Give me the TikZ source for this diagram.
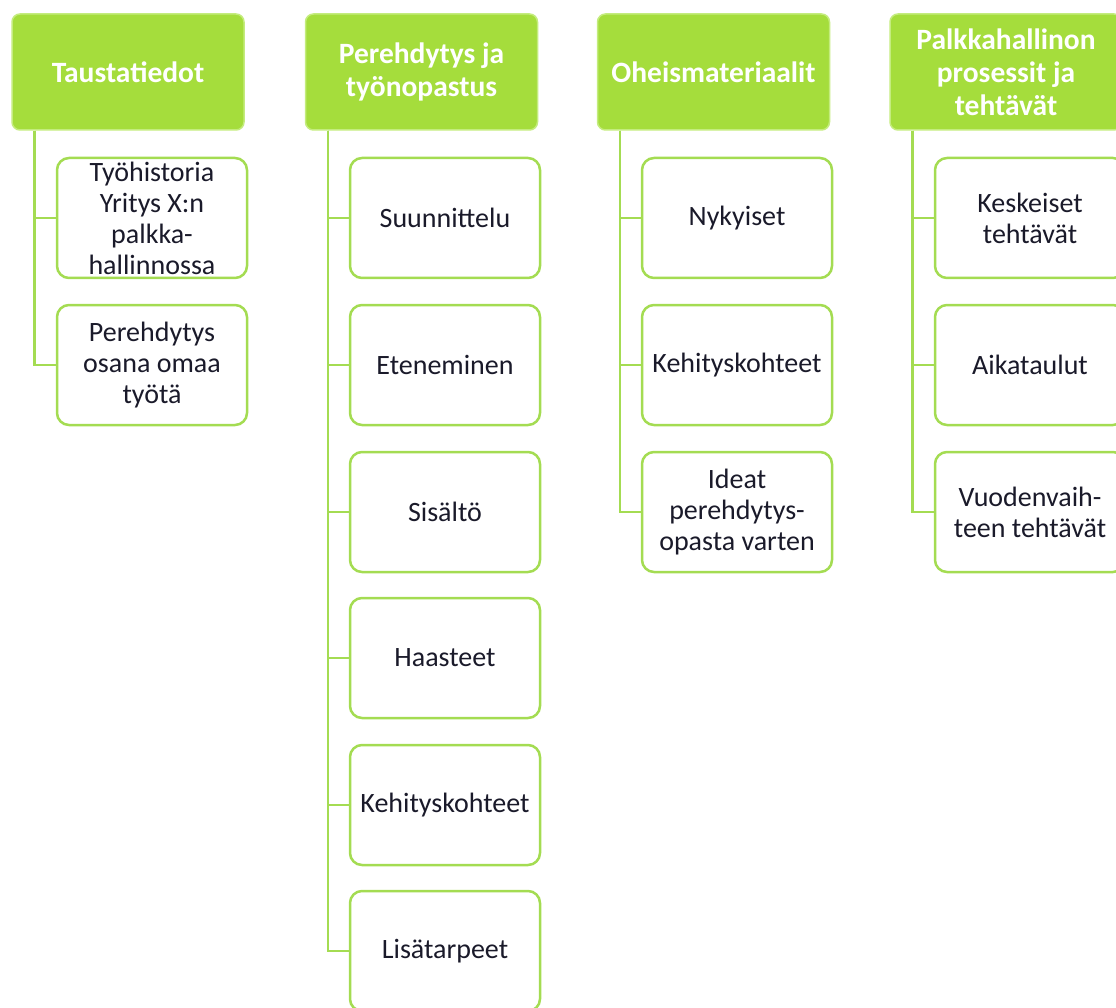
\documentclass[tikz,border=0pt]{standalone}
\usepackage{fontspec}
\setmainfont{Carlito}
\usetikzlibrary{positioning}

\definecolor{leafgreen}{HTML}{A5DD3C}
\definecolor{leafedge}{HTML}{C4EC7E}
\definecolor{leafline}{HTML}{A4DC52}
\definecolor{inktext}{HTML}{1A1A2A}

\begin{document}
\begin{tikzpicture}[x=1pt,y=-1pt,
    head/.style={fill=leafgreen, draw=leafedge, line width=1.5pt,
      rounded corners=8pt, minimum width=232pt, minimum height=116pt,
      inner sep=0pt, align=center, text=white,
      font=\fontsize{29.5}{33}\selectfont\bfseries},
    item/.style={fill=white, draw=leafline, line width=2.5pt,
      rounded corners=12pt, minimum width=190pt, minimum height=120pt,
      inner sep=0pt, align=center, text=inktext,
      font=\fontsize{28}{31}\selectfont},
    link/.style={draw=leafline, line width=2.5pt}]

    \pgfmathsetmacro{\gap}{23}

    \useasboundingbox (0,0) rectangle (1116,1008);
    \clip (0,0) rectangle (1116,1008);

    % headers
    \node[head] (tausta) at (128,72) {Taustatiedot};
    \node[head] (pereh) at (421.5,72) {Perehdytys ja\\työnopastus};
    \node[head] (oheis) at (713.5,72) {Oheismateriaalit};
    \node[head] (palkka) at (1006,72) {Palkkahallinon\\prosessit ja\\tehtävät};

    % first column
    \node[item] (tyohist) at (152,218) {Työhistoria\\Yritys X:n\\palkka-\\hallinnossa};
    \node[item] (omaatyo) at (152,365) {Perehdytys\\osana omaa\\työtä};

    % second column
    \node[item] (suunn) at (445,218) {Suunnittelu};
    \node[item] (eten) at (445,365) {Eteneminen};
    \node[item] (sisalto) at (445,512) {Sisältö};
    \node[item] (haast) at (445,658) {Haasteet};
    \node[item] (kehit) at (445,805) {Kehityskohteet};
    \node[item] (lisat) at (445,951) {Lisätarpeet};

    % third column
    \node[item] (nykyi) at (737,218) {Nykyiset};
    \node[item] (kehmat) at (737,365) {Kehityskohteet};
    \node[item] (ideat) at (737,512) {Ideat\\perehdytys-\\opasta varten};

    % fourth column
    \node[item] (keskei) at (1030,218) {Keskeiset\\tehtävät};
    \node[item] (aikat) at (1030,365) {Aikataulut};
    \node[item] (vuoden) at (1030,512) {Vuodenvaih-\\teen tehtävät};

    % connectors
    \foreach \child in {tyohist,omaatyo}
    {
      \draw[link] ([xshift=\gap pt]tausta.south west) |- (\child.west);
    }
    \foreach \child in {suunn,eten,sisalto,haast,kehit,lisat}
    {
      \draw[link] ([xshift=\gap pt]pereh.south west) |- (\child.west);
    }
    \foreach \child in {nykyi,kehmat,ideat}
    {
      \draw[link] ([xshift=\gap pt]oheis.south west) |- (\child.west);
    }
    \foreach \child in {keskei,aikat,vuoden}
    {
      \draw[link] ([xshift=\gap pt]palkka.south west) |- (\child.west);
    }
  \end{tikzpicture}
\end{document}
